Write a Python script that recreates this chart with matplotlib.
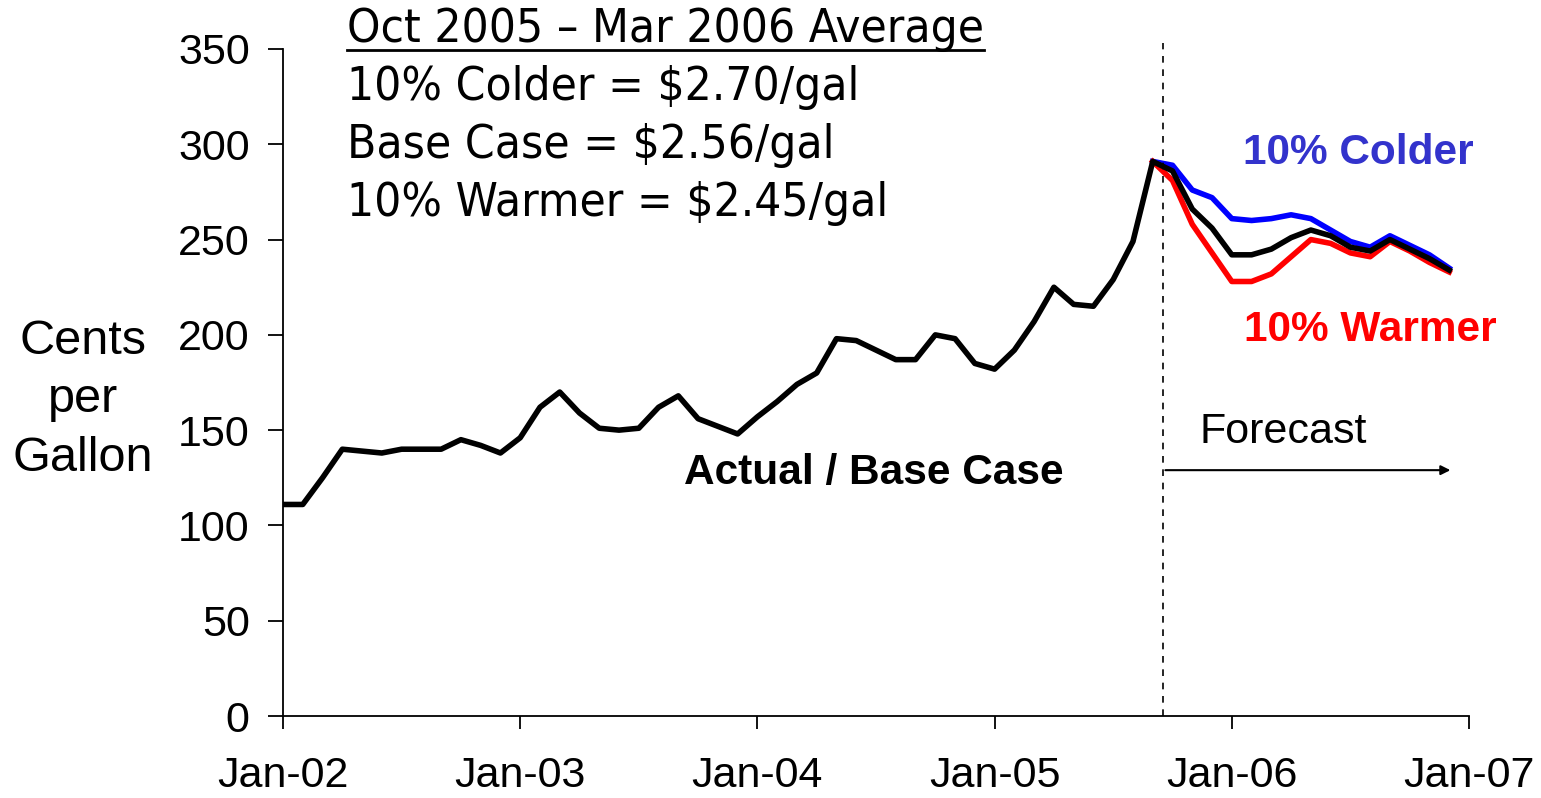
import matplotlib
matplotlib.use("Agg")
import matplotlib.pyplot as plt
from matplotlib import font_manager
from matplotlib.lines import Line2D

# ---------------- data ----------------
tick_labels = ["Jan-02", "Jan-03", "Jan-04", "Jan-05", "Jan-06", "Jan-07"]
# monthly base case (actual + forecast), Jan-02 .. Dec-06
base = [111, 111, 125, 140, 139, 138, 140, 140, 140, 145, 142, 138,
        146, 162, 170, 159, 151, 150, 151, 162, 168, 156, 152, 148,
        157, 165, 174, 180, 198, 197, 192, 187, 187, 200, 198, 185,
        182, 192, 207, 225, 216, 215, 229, 249, 291,
        286, 266, 256, 242, 242, 245, 251, 255, 252, 246, 244, 250, 245, 240, 234]
# forecast scenarios, Sep-05 .. Dec-06
colder = [291, 289, 276, 272, 261, 260, 261, 263, 261, 255, 249, 246, 252, 247, 242, 235]
warmer = [291, 281, 258, 243, 228, 228, 232, 241, 250, 248, 243, 241, 249, 244, 238, 233]
scenario_start = 44  # Sep-05 month index
forecast_start = 44.5

header = "Oct 2005 \u2013 Mar 2006 Average"
lines_txt = ["10% Colder = $2.70/gal", "Base Case = $2.56/gal", "10% Warmer = $2.45/gal"]

# ---------------- fonts ----------------
names = {f.name for f in font_manager.fontManager.ttflist}
arial = "Liberation Sans" if "Liberation Sans" in names else "DejaVu Sans"
if "Liberation Sans Narrow" in names:
    narrow = dict(family="Liberation Sans Narrow")
else:
    narrow = dict(family="DejaVu Sans", stretch="condensed")

W, H = 1541, 798
fig = plt.figure(figsize=(W / 100, H / 100), dpi=100)
ax = fig.add_axes([283 / W, 1 - 716 / H, (1469 - 283) / W, (716 - 49) / H])

months = list(range(len(base)))
ax.plot(months, base, color="black", lw=4, zorder=3)
sx = list(range(scenario_start, scenario_start + len(colder)))
ax.plot(sx, colder, color="#0000FF", lw=4, zorder=2)
ax.plot(sx, warmer, color="#FF0000", lw=4, zorder=2)

ax.set_xlim(0, 60)
ax.set_ylim(0, 350)
ax.set_xticks(range(0, 61, 12))
ax.set_xticklabels(tick_labels)
ax.set_yticks(range(0, 351, 50))
for s in ["top", "right"]:
    ax.spines[s].set_visible(False)
for s in ["left", "bottom"]:
    ax.spines[s].set_linewidth(1.3)
ax.tick_params(direction="out", width=1.3, labelsize=31)
ax.tick_params(axis="y", length=11, pad=13)
ax.tick_params(axis="x", length=9, pad=20)
for lab in ax.get_xticklabels() + ax.get_yticklabels():
    lab.set_family(arial)

# forecast divider and arrow
ax.plot([forecast_start, forecast_start], [0, 353], ls=(0, (4, 4)), color="black", lw=1.2, clip_on=False)
ax.annotate("", xy=(59.2, 129), xytext=(forecast_start, 129),
            arrowprops=dict(arrowstyle="-|>", color="black", lw=1.5, mutation_scale=14))
ax.text(50.6, 149, "Forecast", fontsize=31, family=arial, ha="center", va="center")
ax.text(29.9, 127.5, "Actual / Base Case", fontsize=30.5, family=arial, weight="bold",
        ha="center", va="center")
ax.text(54.4, 295.5, "10% Colder", fontsize=30.5, family=arial, weight="bold",
        color="#3333CC", ha="center", va="center")
ax.text(55.0, 202.5, "10% Warmer", fontsize=30.5, family=arial, weight="bold",
        color="#FF0000", ha="center", va="center")

# y label
fig.text(83 / W, 1 - 400 / H, "Cents\nper\nGallon", fontsize=35, family=arial,
         ha="center", va="center", linespacing=1.38)

# header block
fig.canvas.draw()
renderer = fig.canvas.get_renderer()
fs = 30
th = fig.text(347 / W, 1 - 30 / H, header, fontsize=fs, ha="left", va="center", **narrow)
bb = th.get_window_extent(renderer)
fs = fs * 636 / bb.width
th.set_fontsize(fs)
for i, t in enumerate(lines_txt):
    fig.text(347 / W, 1 - (87 + 58 * i) / H, t, fontsize=fs, ha="left", va="center", **narrow)
bb = th.get_window_extent(renderer)
fig.add_artist(Line2D([bb.x0 / W, bb.x1 / W], [1 - 50 / H, 1 - 50 / H],
                      transform=fig.transFigure, color="black", lw=2))

fig.savefig("out.png", dpi=100)
